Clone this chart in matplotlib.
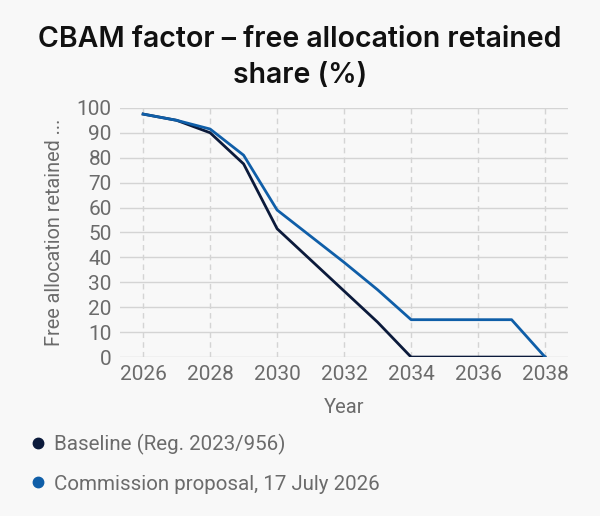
import matplotlib.pyplot as plt
from matplotlib.lines import Line2D

years = [2026, 2027, 2028, 2029, 2030, 2031, 2032, 2033, 2034, 2035, 2036, 2037, 2038]
baseline = [97.5, 95, 90, 77.5, 51.5, 39, 26.5, 14, 0, 0, 0, 0, 0]
proposal = [97.5, 95, 91.5, 81, 59, 48.5, 38, 27, 15, 15, 15, 15, 0]
xticks = [2026, 2028, 2030, 2032, 2034, 2036, 2038]
yticks = list(range(0, 101, 10))

bg = "#f8f8f8"
c_base = "#0b1a3b"
c_prop = "#0f5ea8"
gray = "#6b6b6b"

fig = plt.figure(figsize=(6, 5.16), dpi=100, facecolor=bg)
ax = fig.add_axes([0.2, 0.308, 0.747, 0.483], facecolor=bg)

ax.plot(years, baseline, color=c_base, lw=2.0, zorder=3)
ax.plot(years, proposal, color=c_prop, lw=2.0, zorder=3)

ax.set_xlim(2025.31, 2038.69)
ax.set_ylim(0, 100)
ax.set_xticks(xticks)
ax.set_yticks(yticks)
ax.tick_params(length=0, labelsize=15, labelcolor=gray, pad=6)
for lab in ax.get_xticklabels() + ax.get_yticklabels():
    lab.set_family("Roboto")
ax.grid(axis="y", color="#d4d4d4", lw=1.0, ls="-")
ax.grid(axis="x", color="#d4d4d4", lw=1.0, ls=(0, (4, 3)))
for s in ax.spines.values():
    s.set_visible(False)

ax.set_xlabel("Year", fontsize=14.5, color=gray, family="Roboto", labelpad=10)
ax.set_ylabel("Free allocation retained ...", fontsize=14.3, color=gray,
              family="Roboto", labelpad=9)

fig.text(0.5, 0.889, "CBAM factor \u2013 free allocation retained\nshare (%)",
         ha="center", va="center", fontsize=20.5, fontweight="semibold",
         family="Inter", color="#111111", linespacing=1.45)

handles = [
    Line2D([], [], marker="o", ls="", color=c_base, markersize=7.5),
    Line2D([], [], marker="o", ls="", color=c_prop, markersize=7.5),
]
labels = ["Baseline (Reg. 2023/956)", "Commission proposal, 17 July 2026"]
fig.legend(handles, labels, loc="upper left", bbox_to_anchor=(0.032, 0.175),
           frameon=False, prop={"family": "Roboto", "size": 14.8},
           labelcolor=gray, handletextpad=0.3, labelspacing=0.95,
           handlelength=1.0, borderaxespad=0)

fig.savefig("out.png", dpi=100, facecolor=bg)
